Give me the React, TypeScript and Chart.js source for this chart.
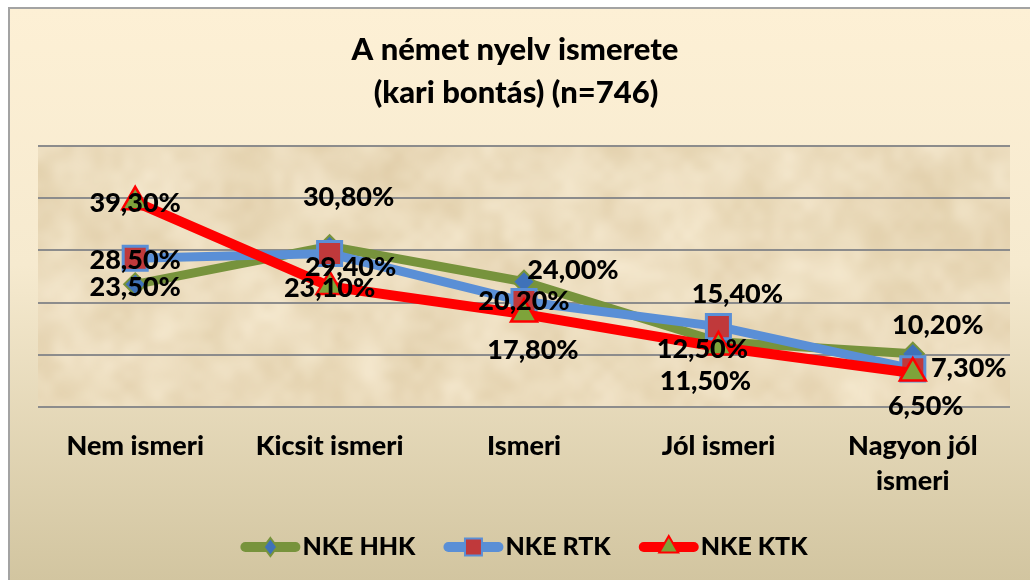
import React, { useEffect, useRef } from 'react';
import { Chart, registerables } from 'chart.js';

Chart.register(...registerables);

// ---------- data ----------
const categories = ['Nem ismeri', 'Kicsit ismeri', 'Ismeri', 'Jól ismeri', 'Nagyon jól ismeri'];
const seriesNames = ['NKE HHK', 'NKE RTK', 'NKE KTK'];
const hhkValues = [23.5, 30.8, 24.0, 12.5, 10.2];
const rtkValues = [28.5, 29.4, 20.2, 15.4, 7.3];
const ktkValues = [39.3, 23.1, 17.8, 11.5, 6.5];
const yMin = 0;
const yMax = 50;
const yStep = 10;
const titleLines = ['A német nyelv ismerete', '(kari bontás) (n=746)'];

// ---------- styling ----------
const FONT = 'Lato';
const WEIGHT = '900';
const LABEL_SIZE = 27;
const LEGEND_SIZE = 25;
const TITLE_SIZE = 31;
const W = 1022;
const H = 573;

// label offsets (px) relative to each point, per series
const labelOffsets = [
  [[0, 3], [19, -49], [49, -11], [-16, 8], [25, -28]],
  [[0, 2], [21, 14], [0, 0], [19, -32], [56, -1]],
  [[0, 1], [0, 2], [9, 36], [-13, 34], [13, 33]],
];

const seriesStyles = [
  { line: '#77933c', width: 9, point: 'rectRot', radius: 11, fill: '#3f72b9', pBorder: '#77933c', pWidth: 2, order: 3, legendRadius: 9 },
  { line: '#5a8fd6', width: 9, point: 'rect', radius: 17, fill: '#c0393b', pBorder: '#5a8fd6', pWidth: 3, order: 2, legendRadius: 12 },
  { line: '#ff0000', width: 10, point: 'triangle', radius: 15, fill: '#7ea33a', pBorder: '#ff0000', pWidth: 2.5, order: 1, legendRadius: 11 },
];

const fmt = (v: number) => v.toFixed(2).replace('.', ',') + '%';

const wrapLabel = (s: string) => {
  if (s.length <= 14) return s;
  const words = s.split(' ');
  const last = words.pop() as string;
  return [words.join(' '), last];
};

function hash(x: number, y: number, s: number) {
  let h = Math.imul(x, 374761393) ^ Math.imul(y, 668265263) ^ Math.imul(s, 982451653);
  h = Math.imul(h ^ (h >>> 13), 1274126177);
  h = h ^ (h >>> 16);
  return ((h >>> 0) % 10000) / 10000;
}

function lerpColor(a: number[], b: number[], t: number) {
  return `rgb(${Math.round(a[0] + (b[0] - a[0]) * t)},${Math.round(a[1] + (b[1] - a[1]) * t)},${Math.round(a[2] + (b[2] - a[2]) * t)})`;
}

function drawTexture(ctx: CanvasRenderingContext2D, x: number, y: number, w: number, h: number) {
  const light = [246, 234, 209];
  const dark = [224, 205, 168];
  const layers = [
    { cell: 30, alpha: 0.9, seed: 1 },
    { cell: 10, alpha: 0.3, seed: 2 },
  ];
  ctx.fillStyle = '#ecdcbc';
  ctx.fillRect(x, y, w, h);
  for (const L of layers) {
    const cw = Math.ceil(w / L.cell) + 1;
    const ch = Math.ceil(h / L.cell) + 1;
    const off = document.createElement('canvas');
    off.width = cw;
    off.height = ch;
    const o = off.getContext('2d') as CanvasRenderingContext2D;
    for (let i = 0; i < cw; i++) {
      for (let j = 0; j < ch; j++) {
        o.fillStyle = lerpColor(light, dark, hash(i, j, L.seed));
        o.fillRect(i, j, 1, 1);
      }
    }
    ctx.save();
    ctx.globalAlpha = L.alpha;
    ctx.imageSmoothingEnabled = true;
    ctx.imageSmoothingQuality = 'high';
    ctx.beginPath();
    ctx.rect(x, y, w, h);
    ctx.clip();
    ctx.drawImage(off, x - L.cell / 2, y - L.cell / 2, cw * L.cell, ch * L.cell);
    ctx.restore();
  }
}

function drawMarker(ctx: CanvasRenderingContext2D, style: string, x: number, y: number, r: number, fill: string, stroke: string, lw: number) {
  ctx.beginPath();
  if (style === 'rectRot') {
    ctx.moveTo(x, y - r);
    ctx.lineTo(x + r * 0.75, y);
    ctx.lineTo(x, y + r);
    ctx.lineTo(x - r * 0.75, y);
    ctx.closePath();
  } else if (style === 'rect') {
    const s = r * Math.SQRT1_2;
    ctx.rect(x - s, y - s, 2 * s, 2 * s);
  } else {
    const a = (2 * Math.PI) / 3;
    ctx.moveTo(x, y - r);
    ctx.lineTo(x + Math.sin(a) * r, y - Math.cos(a) * r);
    ctx.lineTo(x + Math.sin(2 * a) * r, y - Math.cos(2 * a) * r);
    ctx.closePath();
  }
  ctx.fillStyle = fill;
  ctx.fill();
  ctx.lineWidth = lw;
  ctx.strokeStyle = stroke;
  ctx.stroke();
}

const decorPlugin = {
  id: 'decor',
  beforeDraw(chart: any) {
    const { ctx, chartArea: a } = chart;
    ctx.save();
    drawTexture(ctx, a.left, a.top, a.right - a.left, a.bottom - a.top);
    ctx.restore();
  },
  afterDatasetsDraw(chart: any) {
    const ctx = chart.ctx as CanvasRenderingContext2D;
    ctx.save();
    ctx.font = `${WEIGHT} ${LABEL_SIZE}px ${FONT}`;
    ctx.fillStyle = '#000';
    ctx.textAlign = 'center';
    ctx.textBaseline = 'middle';
    chart.data.datasets.forEach((ds: any, i: number) => {
      const meta = chart.getDatasetMeta(i);
      meta.data.forEach((pt: any, j: number) => {
        const [dx, dy] = labelOffsets[i][j];
        ctx.fillText(fmt(ds.data[j]), pt.x + dx, pt.y + dy);
      });
    });
    ctx.restore();
  },
  afterDraw(chart: any) {
    const ctx = chart.ctx as CanvasRenderingContext2D;
    const a = chart.chartArea;
    ctx.save();
    // title
    ctx.font = `${WEIGHT} ${TITLE_SIZE}px ${FONT}`;
    ctx.fillStyle = '#000';
    ctx.textAlign = 'center';
    ctx.textBaseline = 'alphabetic';
    ctx.fillText(titleLines[0], 507, 53);
    ctx.fillText(titleLines[1], 508, 96);
    // legend
    ctx.font = `${WEIGHT} ${LEGEND_SIZE}px ${FONT}`;
    const lineLen = 60;
    const gapText = 2;
    const gapItem = 28;
    const widths = seriesNames.map((n) => ctx.measureText(n).width);
    const total = widths.reduce((s, w) => s + lineLen + gapText + w, 0) + gapItem * (seriesNames.length - 1);
    let x = (a.left + a.right) / 2 - total / 2;
    const y = 540;
    seriesNames.forEach((name, i) => {
      const st = seriesStyles[i];
      ctx.beginPath();
      ctx.lineCap = 'round';
      ctx.lineWidth = 10;
      ctx.strokeStyle = st.line;
      ctx.moveTo(x + 5, y);
      ctx.lineTo(x + lineLen - 5, y);
      ctx.stroke();
      ctx.lineCap = 'butt';
      drawMarker(ctx, st.point, x + lineLen / 2, y, st.legendRadius, st.fill, st.pBorder, 2);
      ctx.fillStyle = '#000';
      ctx.textAlign = 'left';
      ctx.textBaseline = 'middle';
      ctx.fillText(name, x + lineLen + gapText, y);
      x += lineLen + gapText + widths[i] + gapItem;
    });
    ctx.restore();
  },
};

export default function App() {
  const ref = useRef<HTMLCanvasElement | null>(null);

  useEffect(() => {
    document.body.style.margin = '0';
    document.body.style.overflow = 'hidden';
    if (!ref.current) return;
    const values = [hhkValues, rtkValues, ktkValues];
    const chart = new Chart(ref.current, {
      type: 'line',
      data: {
        labels: categories.map(wrapLabel),
        datasets: values.map((v, i) => {
          const st = seriesStyles[i];
          return {
            label: seriesNames[i],
            data: v,
            borderColor: st.line,
            backgroundColor: st.line,
            borderWidth: st.width,
            pointStyle: st.point as any,
            pointRadius: st.radius,
            pointHoverRadius: st.radius,
            pointBackgroundColor: st.fill,
            pointBorderColor: st.pBorder,
            pointBorderWidth: st.pWidth,
            order: st.order,
            tension: 0,
            fill: false,
            clip: false as any,
          };
        }),
      },
      options: {
        responsive: false,
        animation: false,
        events: [],
        layout: { padding: { left: 30, right: 17, top: 139, bottom: 0 } },
        plugins: {
          legend: { display: false },
          title: { display: false },
          tooltip: { enabled: false },
        },
        scales: {
          x: {
            offset: true,
            grid: { display: false, drawTicks: false },
            border: { display: false },
            ticks: {
              color: '#000',
              padding: 22,
              maxRotation: 0,
              autoSkip: false,
              font: { family: FONT, size: LABEL_SIZE, weight: WEIGHT as any, lineHeight: 1.28 },
            },
            afterFit: (scale: any) => {
              scale.height = H - 400;
            },
          },
          y: {
            min: yMin,
            max: yMax,
            ticks: { display: false, stepSize: yStep },
            grid: { color: '#8c8c8c', lineWidth: 2, drawTicks: false },
            border: { display: false },
            afterFit: (scale: any) => {
              scale.width = 0;
            },
          },
        },
      },
      plugins: [decorPlugin],
    });
    return () => chart.destroy();
  }, []);

  return (
    <div style={{ position: 'relative', width: 1030, height: 580, background: '#fff', overflow: 'hidden' }}>
      <div
        style={{
          position: 'absolute',
          left: 8,
          top: 7,
          width: W,
          height: H,
          background: 'linear-gradient(to bottom, #fdf0d5 0%, #f6eacf 45%, #d2c5a0 100%)',
          boxShadow: 'inset 2px 2px 0 #a3a3a3',
        }}
      >
        <canvas ref={ref} width={W} height={H} style={{ display: 'block', position: 'absolute', left: 0, top: 0 }} />
      </div>
    </div>
  );
}
